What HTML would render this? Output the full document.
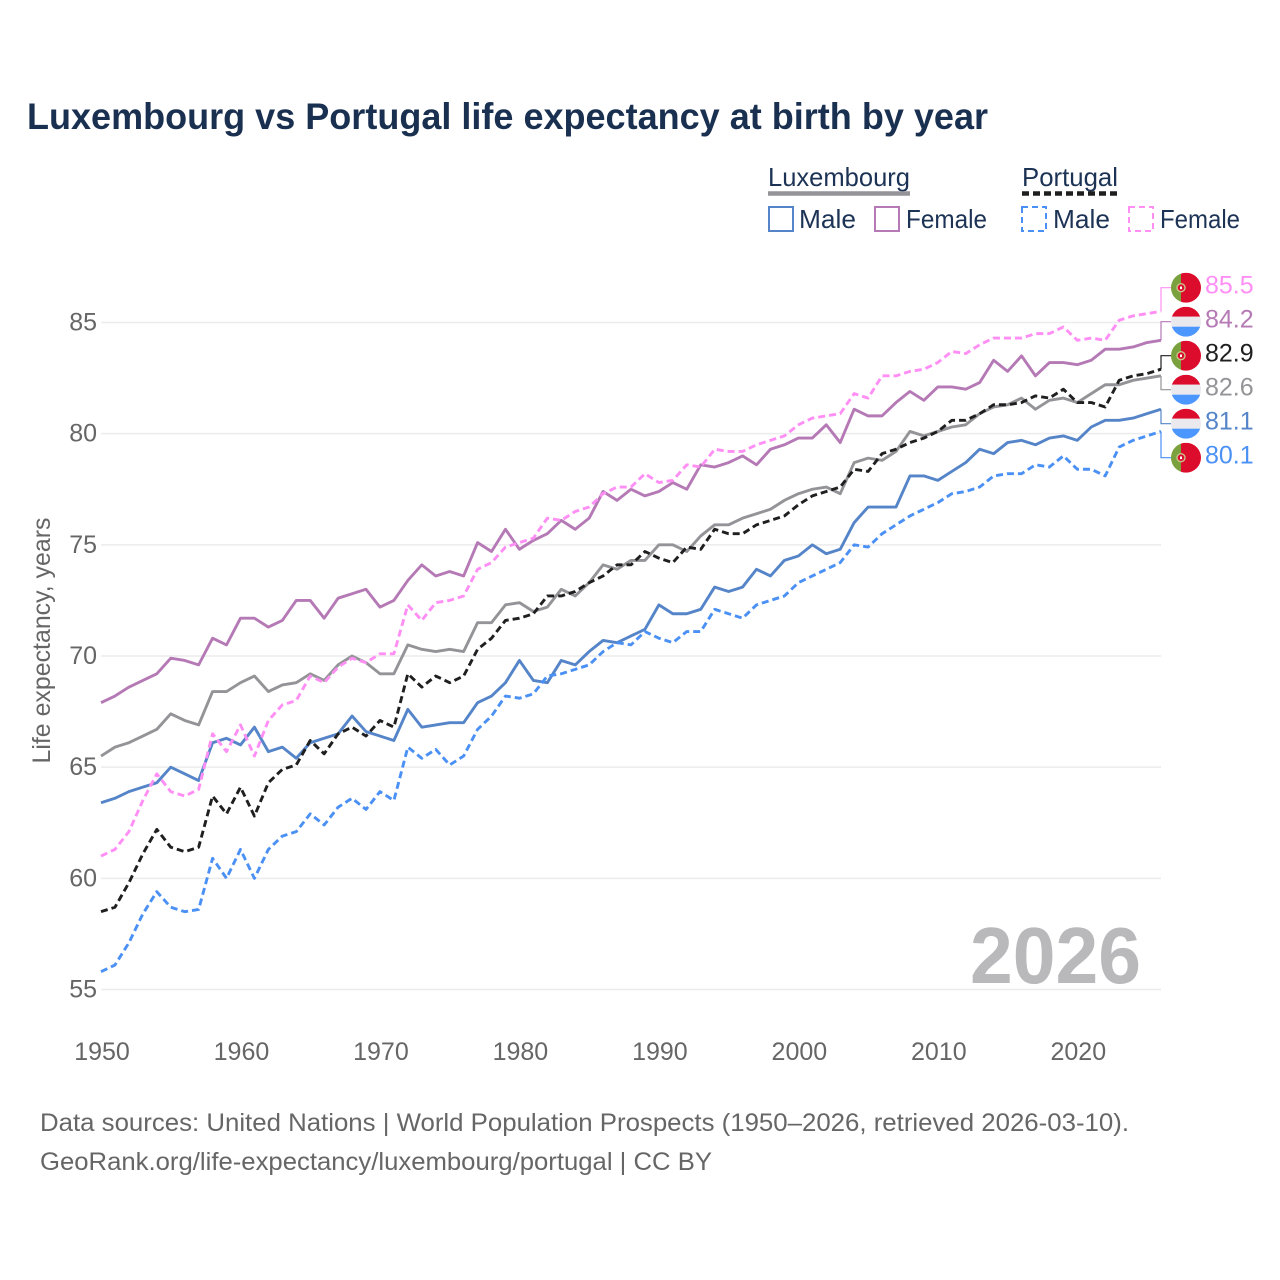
<!DOCTYPE html>
<html lang="en">
<head>
<meta charset="utf-8">
<title>Luxembourg vs Portugal life expectancy at birth by year</title>
<style>
html,body{margin:0;padding:0;background:#fff;}
svg{display:block;font-family:"Liberation Sans",sans-serif;}
</style>
</head>
<body>
<svg id="chart" xmlns="http://www.w3.org/2000/svg" width="1280" height="1280" viewBox="0 0 1280 1280">
  <rect x="0" y="0" width="1280" height="1280" fill="#ffffff"/>
  <text x="27" y="129" font-size="37" font-weight="700" fill="#1a3050" textLength="961" lengthAdjust="spacingAndGlyphs">Luxembourg vs Portugal life expectancy at birth by year</text>

  <g font-size="26" fill="#1c3355">
    <text x="768" y="186" textLength="142" lengthAdjust="spacingAndGlyphs">Luxembourg</text>
    <line x1="768" x2="910" y1="193.5" y2="193.5" stroke="#949498" stroke-width="4.5"/>
    <text x="1022" y="186" textLength="96" lengthAdjust="spacingAndGlyphs">Portugal</text>
    <line x1="1022" x2="1118" y1="193.5" y2="193.5" stroke="#1f1f1f" stroke-width="4.5" stroke-dasharray="7 4"/>
    <g>
      <rect x="769" y="207" width="24" height="24" fill="none" stroke="#5585c8" stroke-width="2"/>
      <text x="799" y="228" textLength="57" lengthAdjust="spacingAndGlyphs">Male</text>
    </g>
    <g>
      <rect x="875" y="207" width="24" height="24" fill="none" stroke="#b57ab5" stroke-width="2"/>
      <text x="906" y="228" textLength="81" lengthAdjust="spacingAndGlyphs">Female</text>
    </g>
    <g>
      <rect x="1022" y="207" width="24" height="24" fill="none" stroke="#4a90f5" stroke-width="2" stroke-dasharray="6 4"/>
      <text x="1053" y="228" textLength="57" lengthAdjust="spacingAndGlyphs">Male</text>
    </g>
    <g>
      <rect x="1129" y="207" width="24" height="24" fill="none" stroke="#ff8ff5" stroke-width="2" stroke-dasharray="6 4"/>
      <text x="1160" y="228" textLength="80" lengthAdjust="spacingAndGlyphs">Female</text>
    </g>
  </g>

  <text transform="translate(50,640.5) rotate(-90)" text-anchor="middle" font-size="25" fill="#666666" textLength="246" lengthAdjust="spacingAndGlyphs">Life expectancy, years</text>

  <g id="grid"></g>
  <g id="yticks"></g>
  <g id="xticks"></g>

  <text x="1141" y="983" text-anchor="end" font-size="80" font-weight="700" fill="#b9b9bc" textLength="171" lengthAdjust="spacingAndGlyphs">2026</text>

  <g id="series"></g>
  <g id="endlabels"></g>

  <text x="40" y="1131" font-size="25" fill="#666666" textLength="1089" lengthAdjust="spacingAndGlyphs">Data sources: United Nations | World Population Prospects (1950–2026, retrieved 2026-03-10).</text>
  <text x="40" y="1170" font-size="25" fill="#666666" textLength="672" lengthAdjust="spacingAndGlyphs">GeoRank.org/life-expectancy/luxembourg/portugal | CC BY</text>
</svg>

<script>
const startYear = 1950;
const endYear = 2026;
const yTickLabels = [55, 60, 65, 70, 75, 80, 85];
const xTickLabels = [1950, 1960, 1970, 1980, 1990, 2000, 2010, 2020];

const luxembourgMale = [63.4,63.6,63.9,64.1,64.3,65.0,64.7,64.4,66.1,66.3,66.0,66.8,65.7,65.9,65.4,66.1,66.3,66.5,67.3,66.6,66.4,66.2,67.6,66.8,66.9,67.0,67.0,67.9,68.2,68.8,69.8,68.9,68.8,69.8,69.6,70.2,70.7,70.6,70.9,71.2,72.3,71.9,71.9,72.1,73.1,72.9,73.1,73.9,73.6,74.3,74.5,75.0,74.6,74.8,76.0,76.7,76.7,76.7,78.1,78.1,77.9,78.3,78.7,79.3,79.1,79.6,79.7,79.5,79.8,79.9,79.7,80.3,80.6,80.6,80.7,80.9,81.1];
const luxembourgFemale = [67.9,68.2,68.6,68.9,69.2,69.9,69.8,69.6,70.8,70.5,71.7,71.7,71.3,71.6,72.5,72.5,71.7,72.6,72.8,73.0,72.2,72.5,73.4,74.1,73.6,73.8,73.6,75.1,74.7,75.7,74.8,75.2,75.5,76.1,75.7,76.2,77.4,77.0,77.5,77.2,77.4,77.8,77.5,78.6,78.5,78.7,79.0,78.6,79.3,79.5,79.8,79.8,80.4,79.6,81.1,80.8,80.8,81.4,81.9,81.5,82.1,82.1,82.0,82.3,83.3,82.8,83.5,82.6,83.2,83.2,83.1,83.3,83.8,83.8,83.9,84.1,84.2];
const luxembourgTotal = [65.5,65.9,66.1,66.4,66.7,67.4,67.1,66.9,68.4,68.4,68.8,69.1,68.4,68.7,68.8,69.2,68.9,69.6,70.0,69.7,69.2,69.2,70.5,70.3,70.2,70.3,70.2,71.5,71.5,72.3,72.4,72.0,72.2,73.0,72.7,73.3,74.1,73.9,74.3,74.3,75.0,75.0,74.7,75.4,75.9,75.9,76.2,76.4,76.6,77.0,77.3,77.5,77.6,77.3,78.7,78.9,78.8,79.2,80.1,79.9,80.1,80.3,80.4,80.9,81.2,81.3,81.6,81.1,81.5,81.6,81.4,81.8,82.2,82.2,82.4,82.5,82.6];
const portugalMale = [55.8,56.1,57.1,58.4,59.4,58.7,58.5,58.6,60.9,60.0,61.3,60.0,61.3,61.9,62.1,62.9,62.4,63.2,63.6,63.1,63.9,63.5,65.9,65.4,65.8,65.1,65.5,66.7,67.3,68.2,68.1,68.3,69.1,69.2,69.4,69.6,70.2,70.6,70.5,71.1,70.8,70.6,71.1,71.1,72.1,71.9,71.7,72.3,72.5,72.7,73.3,73.6,73.9,74.2,75.0,74.9,75.5,75.9,76.3,76.6,76.9,77.3,77.4,77.6,78.1,78.2,78.2,78.6,78.5,79.0,78.4,78.4,78.1,79.4,79.7,79.9,80.1];
const portugalFemale = [61.0,61.3,62.1,63.5,64.7,63.9,63.7,64.0,66.5,65.7,66.9,65.5,67.1,67.8,68.0,69.1,68.8,69.5,69.9,69.7,70.1,70.1,72.3,71.6,72.4,72.5,72.7,73.9,74.2,74.9,75.1,75.3,76.2,76.1,76.5,76.7,77.3,77.6,77.6,78.2,77.8,77.9,78.6,78.5,79.3,79.2,79.2,79.5,79.7,79.9,80.4,80.7,80.8,80.9,81.8,81.6,82.6,82.6,82.8,82.9,83.2,83.7,83.6,84.0,84.3,84.3,84.3,84.5,84.5,84.8,84.2,84.3,84.2,85.1,85.3,85.4,85.5];
const portugalTotal = [58.5,58.7,59.8,61.1,62.2,61.4,61.2,61.4,63.7,62.9,64.1,62.8,64.3,64.9,65.1,66.2,65.6,66.5,66.8,66.4,67.1,66.8,69.2,68.6,69.1,68.8,69.1,70.3,70.8,71.6,71.7,71.9,72.7,72.7,72.9,73.3,73.6,74.1,74.1,74.7,74.4,74.2,74.9,74.8,75.7,75.5,75.5,75.9,76.1,76.3,76.8,77.2,77.4,77.6,78.4,78.3,79.1,79.3,79.6,79.8,80.1,80.6,80.6,80.9,81.3,81.3,81.4,81.7,81.6,82.0,81.4,81.4,81.2,82.4,82.6,82.7,82.9];

const NS = 'http://www.w3.org/2000/svg';
const plotLeft = 101;
const plotRight = 1161;
const plotTop = 322.5;
const plotBottom = 989.5;
const yDomainMin = 55;
const yDomainMax = 85;

function xScale(year) {
  return plotLeft + (year - startYear) * (plotRight - plotLeft) / (endYear - startYear);
}
function yScale(value) {
  return plotBottom - (value - yDomainMin) * (plotBottom - plotTop) / (yDomainMax - yDomainMin);
}
function make(tag, attrs, parent) {
  const el = document.createElementNS(NS, tag);
  for (const k in attrs) el.setAttribute(k, attrs[k]);
  parent.appendChild(el);
  return el;
}

const gridGroup = document.getElementById('grid');
const yTickGroup = document.getElementById('yticks');
yTickLabels.forEach(function (v) {
  const line = make('line', {x1: plotLeft, x2: plotRight, y1: yScale(v), y2: yScale(v), stroke: '#ececec', 'stroke-width': 1.5}, gridGroup);
  
  
  const t = make('text', {x: 97, y: yScale(v) + 8, 'text-anchor': 'end', 'font-size': 25, fill: '#666666'}, yTickGroup);
  t.textContent = v;
  
  
});

const xTickGroup = document.getElementById('xticks');
xTickLabels.forEach(function (yr) {
  const t = make('text', {x: xScale(yr) + 1, y: 1060, 'text-anchor': 'middle', 'font-size': 25, fill: '#666666'}, xTickGroup);
  t.textContent = yr;
  
  
});

const seriesList = [
  {id: 'luxembourg-male', values: luxembourgMale, country: 'lu', color: '#5585c8', dash: ''},
  {id: 'luxembourg-female', values: luxembourgFemale, country: 'lu', color: '#b57ab5', dash: ''},
  {id: 'luxembourg-total', values: luxembourgTotal, country: 'lu', color: '#949498', dash: ''},
  {id: 'portugal-male', values: portugalMale, country: 'pt', color: '#4a90f5', dash: '7 4'},
  {id: 'portugal-female', values: portugalFemale, country: 'pt', color: '#ff8ff5', dash: '7 4'},
  {id: 'portugal-total', values: portugalTotal, country: 'pt', color: '#1f1f1f', dash: '7 4'}
];

const seriesGroup = document.getElementById('series');
seriesList.forEach(function (s) {
  const pts = s.values.map(function (v, i) {
    return xScale(startYear + i).toFixed(2) + ',' + yScale(v).toFixed(2);
  }).join(' ');
  const attrs = {points: pts, fill: 'none', stroke: s.color, 'stroke-width': 2.9, 'stroke-linejoin': 'round'};
  if (s.dash) attrs['stroke-dasharray'] = s.dash;
  const line = make('polyline', attrs, seriesGroup);
  
  
});

function drawFlag(parent, country, cx, cy, idx) {
  const r = 15;
  const clipId = 'flag-clip-' + idx;
  const clip = make('clipPath', {id: clipId}, parent);
  make('circle', {cx: cx, cy: cy, r: r}, clip);
  const g = make('g', {'clip-path': 'url(#' + clipId + ')'}, parent);
  
  
  if (country === 'pt') {
    make('rect', {x: cx - r, y: cy - r, width: 10, height: 30, fill: '#7ba03e'}, g);
    make('rect', {x: cx - 5, y: cy - r, width: 20, height: 30, fill: '#dc0c2c'}, g);
    make('circle', {cx: cx - 5, cy: cy, r: 4, fill: '#dc0c2c', stroke: '#c9c28a', 'stroke-width': 1.4}, g);
    make('rect', {x: cx - 6, y: cy - 1.2, width: 2, height: 2.6, fill: '#ffffff'}, g);
  } else {
    make('rect', {x: cx - r, y: cy - r, width: 30, height: 10, fill: '#dc0c2c'}, g);
    make('rect', {x: cx - r, y: cy - 5, width: 30, height: 10, fill: '#e9e9ee'}, g);
    make('rect', {x: cx - r, y: cy + 5, width: 30, height: 10, fill: '#4c96ff'}, g);
  }
}

const labelGroup = document.getElementById('endlabels');
const ordered = seriesList.slice().sort(function (a, b) {
  return b.values[b.values.length - 1] - a.values[a.values.length - 1];
});
ordered.forEach(function (s, i) {
  const last = s.values[s.values.length - 1];
  const ly = 287.7 + 34 * i;
  const conn = make('polyline', {
    points: plotRight + ',' + yScale(last) + ' ' + plotRight + ',' + ly + ' 1173,' + ly,
    fill: 'none', stroke: s.color, 'stroke-width': 1.2
  }, labelGroup);
  
  
  drawFlag(labelGroup, s.country, 1186, ly, i);
  const t = make('text', {x: 1205, y: ly + 6, 'font-size': 25, fill: s.color}, labelGroup);
  t.textContent = last.toFixed(1);
  
  
});
</script>
</body>
</html>
